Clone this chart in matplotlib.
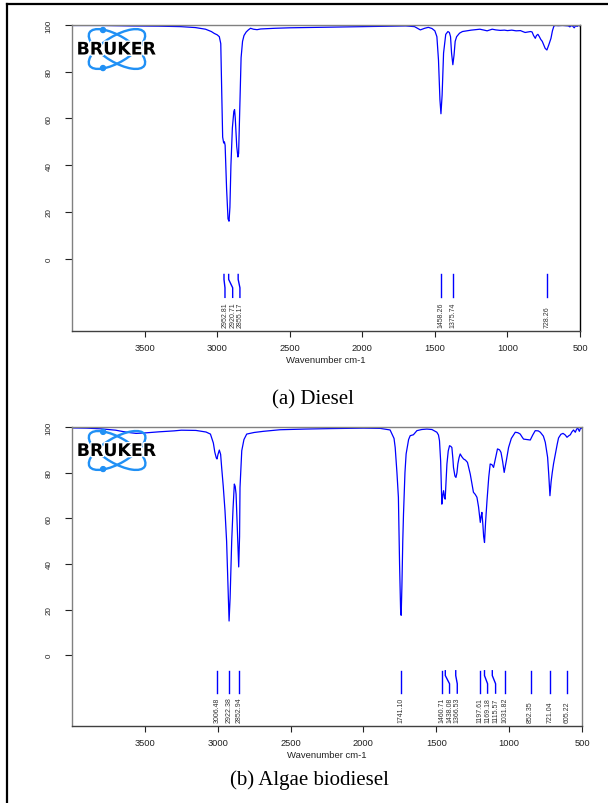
import numpy as np
import matplotlib
matplotlib.use('Agg')
import matplotlib.pyplot as plt
from matplotlib.patches import Ellipse, Circle
from matplotlib.lines import Line2D
import matplotlib.patheffects as pe

plt.rcParams['font.family'] = ['Liberation Sans', 'DejaVu Sans']

# ---- data ----
# (a) diesel spectrum: wavenumber (cm-1) and transmittance (%)
diesel_wn = [4000, 3800, 3600, 3400, 3250, 3150, 3080, 3040, 3020, 3000, 2985, 2975, 2968,
             2962, 2955, 2950, 2945, 2935, 2925, 2918, 2912, 2905, 2895, 2885, 2880, 2875,
             2865, 2857, 2852, 2845, 2835, 2825, 2815, 2800, 2785, 2770, 2750, 2725, 2700,
             2600, 2500, 2400, 2300, 2200, 2100, 2000, 1900, 1800, 1700, 1640, 1600, 1570,
             1545, 1520, 1500, 1486, 1475, 1465, 1458, 1450, 1440, 1425, 1410, 1400, 1392,
             1385, 1376, 1368, 1360, 1350, 1330, 1310, 1280, 1250, 1220, 1190, 1160, 1140,
             1120, 1105, 1080, 1050, 1020, 1000, 970, 940, 910, 895, 878, 860, 840, 830, 820,
             808, 800, 790, 780, 770, 760, 750, 740, 728, 715, 700, 690, 680, 670, 650, 620,
             600, 580, 570, 560, 550, 540, 530, 520, 510, 500]
diesel_t = [99.8, 99.8, 99.6, 99.5, 99.3, 98.9, 98.2, 97.2, 96.4, 95.8, 95.0, 92.0, 70.0,
            52.0, 49.5, 50.0, 48.5, 30.0, 17.0, 16.0, 22.0, 40.0, 56.0, 63.0, 63.8, 60.0,
            48.0, 43.5, 45.0, 62.0, 86.0, 93.0, 95.5, 97.0, 97.9, 98.6, 98.2, 98.0, 98.3,
            98.6, 98.8, 98.9, 99.0, 99.1, 99.2, 99.3, 99.4, 99.5, 99.6, 99.3, 97.9, 98.6,
            99.0, 98.5, 97.5, 95.0, 85.0, 68.0, 62.0, 70.0, 88.0, 96.0, 97.2, 96.8, 95.0,
            88.0, 83.0, 87.0, 93.0, 95.0, 96.5, 97.2, 97.5, 97.8, 98.0, 98.2, 97.8, 97.5,
            97.9, 98.2, 97.9, 97.7, 97.8, 97.6, 97.8, 97.5, 97.6, 97.2, 96.8, 97.0, 97.2, 97.0, 95.5,
            94.3, 95.5, 96.0, 95.0, 93.8, 93.0, 91.5, 90.0, 89.3, 91.5, 94.3, 97.5, 99.5, 99.8, 99.7, 99.8,
            99.7, 99.6, 99.2, 99.7, 99.5, 98.8, 99.7, 99.4, 99.8, 99.6]
diesel_peaks = [2952.81, 2920.71, 2855.17, 1458.26, 1375.74, 728.26]

# (b) algae biodiesel spectrum
algae_wn = [4000, 3900, 3800, 3700, 3650, 3600, 3560, 3500, 3400, 3300, 3250, 3150, 3080,
            3050, 3030, 3020, 3010, 3005, 2998, 2989, 2980, 2973, 2962, 2950, 2939, 2930,
            2922, 2915, 2904, 2895, 2886, 2880, 2874, 2865, 2856, 2850, 2847, 2835, 2820,
            2801, 2750, 2687, 2572, 2400, 2229, 2100, 2000, 1885, 1817, 1790, 1782, 1770,
            1760, 1752, 1745, 1741, 1736, 1730, 1725, 1715, 1707, 1690, 1679, 1657, 1633,
            1600, 1565, 1530, 1496, 1485, 1478, 1470, 1462, 1456, 1450, 1444, 1439, 1433,
            1427, 1418, 1409, 1400, 1393, 1386, 1382, 1372, 1365, 1358, 1352, 1344, 1336,
            1325, 1313, 1300, 1286, 1275, 1267, 1255, 1245, 1233, 1221, 1210, 1198, 1192,
            1187, 1180, 1175, 1169, 1162, 1152, 1140, 1130, 1118, 1107, 1095, 1080, 1066,
            1056, 1045, 1034, 1020, 1004, 985, 958, 940, 924, 910, 901, 880, 855, 838, 821,
            800, 786, 765, 752, 745, 736, 728, 720, 712, 704, 695, 683, 670, 661, 645, 630,
            615, 603, 590, 580, 570, 558, 546, 538, 530, 524, 518, 512, 507, 500]
algae_t = [99.6, 99.5, 99.2, 98.6, 98.0, 97.5, 97.2, 97.4, 97.9, 98.3, 98.6, 98.5, 97.8,
           96.9, 93.0, 89.0, 86.5, 86.0, 88.0, 89.9, 88.0, 82.3, 74.0, 63.3, 50.0, 32.0,
           15.0, 25.0, 50.0, 64.0, 75.0, 74.0, 70.6, 55.0, 38.7, 52.0, 73.5, 89.6, 94.5,
           96.9, 97.6, 98.1, 98.8, 99.1, 99.3, 99.4, 99.5, 99.4, 98.7, 95.0, 91.0, 80.0,
           69.2, 40.0, 20.0, 17.5, 30.0, 50.0, 61.8, 80.0, 88.2, 94.5, 96.2, 96.6, 98.4,
           98.9, 99.1, 98.9, 97.7, 96.5, 94.0, 85.0, 66.2, 70.0, 72.1, 69.0, 68.4, 76.0,
           83.8, 89.5, 91.8, 91.5, 91.0, 86.0, 82.3, 78.5, 77.9, 80.0, 83.8, 86.5, 88.2,
           87.0, 86.0, 85.5, 84.5, 81.5, 79.4, 75.0, 71.4, 70.5, 69.2, 65.0, 58.2, 61.0,
           62.6, 57.0, 52.0, 49.4, 58.0, 67.7, 78.0, 83.8, 83.5, 82.3, 86.0, 90.4, 90.0,
           88.9, 85.0, 80.1, 85.0, 91.0, 95.0, 97.7, 97.5, 96.9, 95.5, 94.7, 94.5, 94.3, 96.5, 98.4,
           98.3, 97.7, 96.0, 93.3, 90.5, 86.7, 79.0, 69.9, 76.0, 80.1, 84.0, 88.2, 92.5, 95.2, 96.8, 97.2,
           96.5, 95.5, 96.2, 96.6, 97.8, 98.7, 97.7, 98.9, 99.6, 98.8, 98.1, 99.2, 99.6, 99.3]
algae_peaks = [3006.48, 2922.38, 2852.94, 1741.10, 1460.71, 1438.08, 1366.53, 1197.61,
               1169.18, 1115.57, 1031.82, 852.35, 721.04, 605.22]

# where the peak labels sit (shifted when peaks are crowded)
diesel_label_pos = [2946, 2893, 2843, 1458.26, 1375.74, 728.26]
algae_label_pos = [3006.48, 2922.38, 2852.94, 1741.10, 1460.71, 1409, 1356, 1197.61,
                   1148, 1093, 1031.82, 852.35, 721.04, 605.22]

xticks = [3500, 3000, 2500, 2000, 1500, 1000, 500]
yticks = [0, 20, 40, 60, 80, 100]

W, H = 608, 804
fig = plt.figure(figsize=(W / 100, H / 100), dpi=100)


def draw_logo(ax):
    # Bruker logo, drawn in pixel units of a small inset
    lg = ax.inset_axes([0.004, 0.843, 0.169, 0.157])
    lg.set_xlim(0, 86)
    lg.set_ylim(0, 48)
    lg.axis('off')
    col = '#2090f5'
    for ang in (31, -31):
        lg.add_patch(Ellipse((43, 24), 64, 26, angle=ang, fill=False, ec=col, lw=1.7))
    lg.add_patch(Circle((29, 43), 2.5, color=col))
    lg.add_patch(Circle((29, 5), 2.5, color=col))
    lg.text(42.5, 23.5, 'BRUKER', ha='center', va='center', fontsize=12.5,
            family='DejaVu Sans', weight='heavy', color='black',
            path_effects=[pe.withStroke(linewidth=2, foreground='white')])


def spectrum(rect, wn, t, peaks, label_pos, right_col):
    ax = fig.add_axes(rect)
    ax.plot(wn, t, color='#0000ff', lw=0.9)
    for p, lp in zip(peaks, label_pos):
        if abs(p - lp) > 1:
            ax.plot([p, p, lp, lp], [-6.8, -8.9, -12.5, -16.6], color='#0000ff', lw=1.0)
        else:
            ax.plot([p, p], [-6.8, -16.6], color='#0000ff', lw=1.0)
        ax.text(lp, -29.3, '%.2f' % p, rotation=90, rotation_mode='anchor',
                ha='left', va='center', fontsize=5, color='#333333')
    ax.set_xlim(4000, 500)
    ax.set_ylim(-31, 100)
    ax.set_xticks(xticks)
    ax.set_yticks(yticks)
    ax.tick_params(axis='x', labelsize=6.7, length=4.5, width=0.8, pad=4, colors='#222222')
    ax.tick_params(axis='y', labelsize=5.8, length=5, width=0.8, pad=9, colors='#222222',
                   labelrotation=90)
    for lab in ax.get_yticklabels():
        lab.set_va('center')
    ax.set_xlabel('Wavenumber cm-1', fontsize=6.8, labelpad=2, color='#222222')
    ax.spines['top'].set_color('#808080')
    ax.spines['left'].set_color('#808080')
    ax.spines['bottom'].set_color('#404040')
    ax.spines['right'].set_color(right_col)
    for s in ax.spines.values():
        s.set_linewidth(1.0)
    draw_logo(ax)
    return ax


spectrum([72 / W, 1 - 332 / H, 508 / W, 306 / H], diesel_wn, diesel_t, diesel_peaks,
         diesel_label_pos, 'black')
spectrum([72 / W, 1 - 727 / H, 510 / W, 299 / H], algae_wn, algae_t, algae_peaks,
         algae_label_pos, '#808080')

fig.text(313 / W, 1 - 400 / H, '(a) Diesel', ha='center', va='center', fontsize=15,
         family='Liberation Serif')
fig.text(309 / W, 1 - 780 / H, '(b) Algae biodiesel', ha='center', va='center', fontsize=15,
         family='Liberation Serif')

# outer frame (cut off at right and bottom in the original)
fig.add_artist(Line2D([7 / W, 7 / W], [0, 1 - 5 / H], color='black', lw=1.6))
fig.add_artist(Line2D([7 / W, 1], [1 - 5 / H, 1 - 5 / H], color='black', lw=1.6))

fig.savefig('out.png', dpi=100)
